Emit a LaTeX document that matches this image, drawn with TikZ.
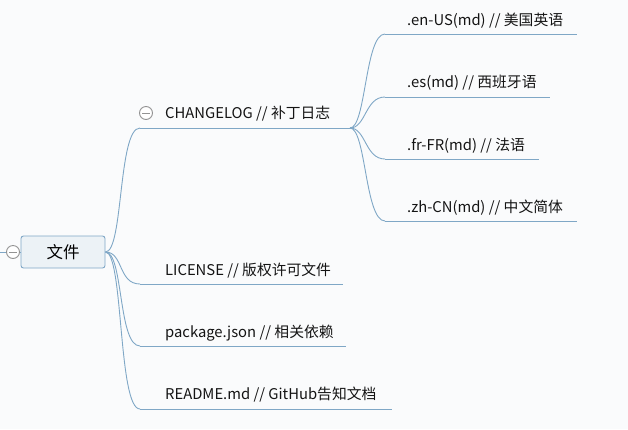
\documentclass[tikz,border=0pt]{standalone}
\usepackage{fontspec}
\setmainfont{Noto Sans CJK SC}
\usetikzlibrary{calc}
\begin{document}
\begin{tikzpicture}[x=1pt,y=-1pt,
  conn/.style={draw=lineblue,line width=0.9pt},
  lbl/.style={anchor=base west,inner sep=0pt,font=\fontsize{14.8}{16}\selectfont,text=black!92},
  fold/.style={circle,draw=gray!85,line width=0.9pt,fill=white,minimum size=13pt,inner sep=0pt},
  ]
\definecolor{lineblue}{HTML}{7FA7C6}
\definecolor{bg}{HTML}{FAFBFC}
\fill[bg] (0,0) rectangle (628,429);
\useasboundingbox (0,0) rectangle (628,429);
% root
\coordinate (lft) at (0,252);
\node[draw=lineblue,fill=lineblue!15,rounded corners=2.5pt,line width=0.9pt,minimum width=84pt,minimum height=32pt,font=\fontsize{16.5}{18}\selectfont] (root) at (63,252) {文件};
\node[fold] (rf) at (13,252) {};
\draw[gray!85,line width=0.9pt] ([xshift=-4pt]rf.center) -- ([xshift=4pt]rf.center);
\draw[conn] (lft) -- (rf.west);
\draw[conn] (rf.east) -- (root.west);
% branch coordinates
\coordinate (c1a) at (140,128); \coordinate (c1b) at (350,128);
\coordinate (l2a) at (140,284); \coordinate (l2b) at (343,284);
\coordinate (l3a) at (140,346); \coordinate (l3b) at (346,346);
\coordinate (l4a) at (140,409); \coordinate (l4b) at (392,409);
\foreach \a in {c1a,l2a,l3a,l4a}{
  \draw[conn] (root.east) .. controls ($(root.east)+(18,0)$) and ($(\a)+(-22,0)$) .. (\a);
}
\draw[conn] (c1a) -- (c1b);
\draw[conn] (l2a) -- (l2b);
\draw[conn] (l3a) -- (l3b);
\draw[conn] (l4a) -- (l4b);
\node[lbl] (t1) at (165,118) {CHANGELOG // 补丁日志};
\node[fold] (cf) at (146,113) {};
\draw[gray!85,line width=0.9pt] ([xshift=-4pt]cf.center) -- ([xshift=4pt]cf.center);
\node[lbl] (t2) at (165,275) {LICENSE // 版权许可文件};
\node[lbl] (t3) at (165,337) {package.json // 相关依赖};
\node[lbl] (t4) at (165,399) {README.md // GitHub告知文档};
% sub-branches
\coordinate (s1a) at (385,34); \coordinate (s1b) at (577,34);
\coordinate (s2a) at (385,97); \coordinate (s2b) at (550,97);
\coordinate (s3a) at (385,159); \coordinate (s3b) at (539,159);
\coordinate (s4a) at (385,221); \coordinate (s4b) at (577,221);
\foreach \a in {s1a,s2a,s3a,s4a}{
  \draw[conn] (c1b) .. controls ($(c1b)+(16,0)$) and ($(\a)+(-20,0)$) .. (\a);
}
\draw[conn] (s1a) -- (s1b);
\draw[conn] (s2a) -- (s2b);
\draw[conn] (s3a) -- (s3b);
\draw[conn] (s4a) -- (s4b);
\node[lbl] (u1) at (407,25) {.en-US(md) // 美国英语};
\node[lbl] (u2) at (407,87) {.es(md) // 西班牙语};
\node[lbl] (u3) at (407,150) {.fr-FR(md) // 法语};
\node[lbl] (u4) at (407,212) {.zh-CN(md) // 中文简体};
\end{tikzpicture}
\end{document}
